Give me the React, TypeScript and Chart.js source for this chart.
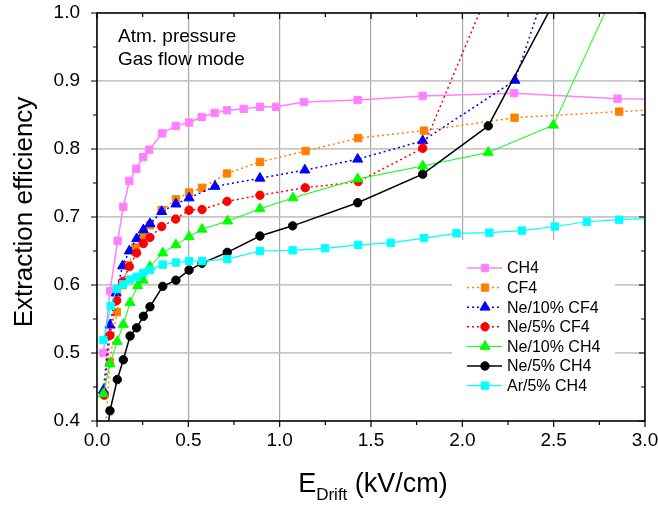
import React, { useEffect, useRef } from 'react';
import { Chart, registerables } from 'chart.js';

Chart.register(...registerables);

const FONT = '"Liberation Sans", Arial, Helvetica, sans-serif';

// ---------- data ----------
const seriesNames = ['CH4', 'CF4', 'Ne/10% CF4', 'Ne/5% CF4', 'Ne/10% CH4', 'Ne/5% CH4', 'Ar/5% CH4'];

const ch4X = [0.035, 0.071, 0.113, 0.144, 0.177, 0.215, 0.253, 0.286, 0.357, 0.431, 0.504, 0.573, 0.644, 0.712, 0.803, 0.892, 0.981, 1.133, 1.427, 1.783, 2.284, 2.85, 3.2];
const ch4Y = [0.500, 0.591, 0.665, 0.715, 0.753, 0.771, 0.788, 0.799, 0.823, 0.834, 0.839, 0.847, 0.853, 0.857, 0.859, 0.862, 0.862, 0.869, 0.872, 0.878, 0.882, 0.874, 0.873];

const cf4X = [0.04, 0.071, 0.108, 0.14, 0.171, 0.21, 0.25, 0.29, 0.354, 0.432, 0.504, 0.575, 0.712, 0.892, 1.142, 1.43, 1.79, 2.286, 2.859, 3.2];
const cf4Y = [0.36, 0.487, 0.560, 0.600, 0.629, 0.655, 0.672, 0.688, 0.710, 0.726, 0.736, 0.743, 0.764, 0.781, 0.797, 0.816, 0.827, 0.846, 0.855, 0.860];

const ne10cf4X = [0.035, 0.071, 0.105, 0.14, 0.177, 0.217, 0.254, 0.29, 0.354, 0.432, 0.504, 0.646, 0.892, 1.138, 1.427, 1.783, 2.288, 2.6];
const ne10cf4Y = [0.445, 0.541, 0.588, 0.628, 0.650, 0.668, 0.681, 0.690, 0.708, 0.719, 0.728, 0.745, 0.757, 0.769, 0.785, 0.812, 0.901, 1.15];

const ne5cf4X = [0.04, 0.071, 0.108, 0.14, 0.177, 0.217, 0.254, 0.29, 0.354, 0.431, 0.504, 0.575, 0.712, 0.892, 1.14, 1.43, 1.783, 2.14];
const ne5cf4Y = [0.438, 0.526, 0.577, 0.605, 0.627, 0.647, 0.661, 0.670, 0.686, 0.697, 0.710, 0.711, 0.723, 0.732, 0.743, 0.752, 0.801, 1.03];

const ne10ch4X = [0.035, 0.071, 0.111, 0.144, 0.181, 0.223, 0.253, 0.29, 0.36, 0.432, 0.504, 0.575, 0.715, 0.892, 1.073, 1.427, 1.783, 2.142, 2.498, 2.86];
const ne10ch4Y = [0.440, 0.484, 0.517, 0.542, 0.574, 0.599, 0.607, 0.627, 0.647, 0.659, 0.671, 0.682, 0.694, 0.712, 0.728, 0.756, 0.775, 0.795, 0.835, 1.047];

const ne5ch4X = [0.04, 0.071, 0.111, 0.144, 0.181, 0.217, 0.254, 0.29, 0.36, 0.432, 0.504, 0.575, 0.713, 0.892, 1.071, 1.427, 1.783, 2.142, 2.5];
const ne5ch4Y = [0.35, 0.415, 0.461, 0.490, 0.525, 0.537, 0.554, 0.568, 0.598, 0.607, 0.622, 0.632, 0.648, 0.672, 0.687, 0.721, 0.763, 0.834, 1.015];

const ar5ch4X = [0.035, 0.075, 0.108, 0.144, 0.181, 0.217, 0.254, 0.29, 0.36, 0.432, 0.504, 0.576, 0.713, 0.892, 1.071, 1.248, 1.43, 1.608, 1.79, 1.968, 2.148, 2.326, 2.506, 2.682, 2.859, 3.2];
const ar5ch4Y = [0.519, 0.569, 0.594, 0.601, 0.608, 0.612, 0.618, 0.622, 0.630, 0.633, 0.635, 0.635, 0.638, 0.650, 0.651, 0.654, 0.659, 0.662, 0.669, 0.676, 0.677, 0.680, 0.686, 0.693, 0.696, 0.700];

const xMin = 0, xMax = 3, xStep = 0.5;
const yMin = 0.4, yMax = 1.0, yStep = 0.1;
const noteLines = ['Atm. pressure', 'Gas flow mode'];

// ---------- styles ----------
const styles = [
  { color: '#ff80ff', shape: 'rect', dash: [] as number[], width: 1.5, r: 5.2 },
  { color: '#ff8000', shape: 'rect', dash: [2, 3], width: 1.5, r: 5.2 },
  { color: '#0000ff', shape: 'triangle', dash: [2, 3], width: 1.5, r: 5.8 },
  { color: '#ff0000', shape: 'circle', dash: [2, 3], width: 1.5, r: 4.2 },
  { color: '#00ff00', shape: 'triangle', dash: [] as number[], width: 1, r: 5.8 },
  { color: '#000000', shape: 'circle', dash: [] as number[], width: 1.5, r: 4.2 },
  { color: '#00ffff', shape: 'rect', dash: [] as number[], width: 1.2, r: 5.2 },
];

const xsAll = [ch4X, cf4X, ne10cf4X, ne5cf4X, ne10ch4X, ne5ch4X, ar5ch4X];
const ysAll = [ch4Y, cf4Y, ne10cf4Y, ne5cf4Y, ne10ch4Y, ne5ch4Y, ar5ch4Y];

function drawMarker(ctx: CanvasRenderingContext2D, shape: string, x: number, y: number, r: number, color: string) {
  ctx.fillStyle = color;
  ctx.strokeStyle = color;
  ctx.lineWidth = 1;
  ctx.setLineDash([]);
  ctx.beginPath();
  if (shape === 'rect') {
    const s = Math.SQRT1_2 * r;
    ctx.rect(x - s, y - s, 2 * s, 2 * s);
  } else if (shape === 'circle') {
    ctx.arc(x, y, r, 0, Math.PI * 2);
  } else {
    ctx.moveTo(x, y - r);
    ctx.lineTo(x + r * Math.sin(Math.PI / 3), y + r / 2);
    ctx.lineTo(x - r * Math.sin(Math.PI / 3), y + r / 2);
    ctx.closePath();
  }
  ctx.fill();
  ctx.stroke();
}

const decorPlugin = {
  id: 'decor',
  afterDraw(chart: any) {
    const { ctx, chartArea: a, scales } = chart;
    const xs = scales.x;
    const ys = scales.y;
    ctx.save();

    // legend box
    ctx.fillStyle = '#ffffff';
    ctx.fillRect(a.left + 355, a.top + 227, 163, a.bottom - a.top - 229);
    const legX = a.left + 370;
    const legY0 = a.top + 255;
    const legDy = 19.6;
    seriesNames.forEach((name, i) => {
      const st = styles[i];
      const y = legY0 + i * legDy;
      ctx.strokeStyle = st.color;
      ctx.lineWidth = st.width;
      ctx.setLineDash(st.dash);
      ctx.beginPath();
      ctx.moveTo(legX, y);
      ctx.lineTo(legX + 35, y);
      ctx.stroke();
      drawMarker(ctx, st.shape, legX + 18, y, st.r, st.color);
      ctx.fillStyle = '#000';
      ctx.font = `16px ${FONT}`;
      ctx.textBaseline = 'middle';
      ctx.textAlign = 'left';
      ctx.fillText(name, legX + 40, y + 1);
    });

    // frame
    ctx.setLineDash([]);
    ctx.strokeStyle = '#000';
    ctx.lineWidth = 1.5;
    ctx.strokeRect(a.left, a.top, a.right - a.left, a.bottom - a.top);

    // ticks
    ctx.lineWidth = 1.2;
    ctx.beginPath();
    for (let v = xMin; v <= xMax + 1e-9; v += xStep / 2) {
      const px = xs.getPixelForValue(v);
      const major = Math.abs(v / xStep - Math.round(v / xStep)) < 1e-6;
      const len = major ? 6 : 4;
      ctx.moveTo(px, a.bottom);
      ctx.lineTo(px, a.bottom + len);
      ctx.moveTo(px, a.top);
      ctx.lineTo(px, a.top + len);
    }
    for (let v = yMin; v <= yMax + 1e-9; v += yStep / 2) {
      const py = ys.getPixelForValue(v);
      const k = (v - yMin) / yStep;
      const major = Math.abs(k - Math.round(k)) < 1e-6;
      const len = major ? 6 : 4;
      ctx.moveTo(a.left, py);
      ctx.lineTo(a.left - len, py);
      ctx.moveTo(a.right, py);
      ctx.lineTo(a.right - len, py);
    }
    ctx.stroke();

    // note text
    ctx.fillStyle = '#000';
    ctx.font = `19px ${FONT}`;
    ctx.textAlign = 'left';
    ctx.textBaseline = 'alphabetic';
    ctx.fillText(noteLines[0], a.left + 21, a.top + 29);
    ctx.fillText(noteLines[1], a.left + 21, a.top + 51.5);

    // y title
    ctx.save();
    ctx.translate(25, 212);
    ctx.rotate(-Math.PI / 2);
    ctx.font = `26px ${FONT}`;
    ctx.textAlign = 'center';
    ctx.textBaseline = 'middle';
    ctx.fillText('Extraction efficiency', 0, 0);
    ctx.restore();

    // x title with subscript
    const big = `27px ${FONT}`;
    const small = `17px ${FONT}`;
    ctx.textBaseline = 'alphabetic';
    ctx.font = big;
    const wE = ctx.measureText('E').width;
    const rest = ' (kV/cm)';
    const wR = ctx.measureText(rest).width;
    ctx.font = small;
    const wD = ctx.measureText('Drift').width;
    const total = wE + wD + wR;
    let x0 = 373 - total / 2;
    const base = 492;
    ctx.font = big;
    ctx.fillText('E', x0, base);
    x0 += wE;
    ctx.font = small;
    ctx.fillText('Drift', x0, base + 8);
    x0 += wD;
    ctx.font = big;
    ctx.fillText(rest, x0, base);

    ctx.restore();
  },
};

export default function App() {
  const ref = useRef<HTMLCanvasElement | null>(null);
  useEffect(() => {
    if (!ref.current) return;
    const datasets = seriesNames.map((name, i) => {
      const st = styles[i];
      return {
        label: name,
        data: xsAll[i].map((x, j) => ({ x, y: ysAll[i][j] })),
        showLine: true,
        borderColor: st.color,
        backgroundColor: st.color,
        borderWidth: st.width,
        borderDash: st.dash,
        pointStyle: st.shape,
        pointRadius: st.r,
        pointBorderWidth: 1,
        pointBackgroundColor: st.color,
        pointBorderColor: st.color,
        tension: 0,
        clip: 0,
        order: 7 - i,
      };
    });
    const chart = new Chart(ref.current, {
      type: 'scatter',
      data: { datasets },
      plugins: [decorPlugin],
      options: {
        animation: false,
        responsive: false,
        events: [],
        layout: { padding: { left: 0, right: 13, top: 13, bottom: 0 } },
        plugins: { legend: { display: false }, tooltip: { enabled: false } },
        scales: {
          x: {
            type: 'linear',
            min: xMin,
            max: xMax,
            afterFit: (s: any) => { s.height = 87; s.paddingLeft = 0; s.paddingRight = 0; },
            border: { display: false },
            grid: { color: '#a8a8a8', lineWidth: 1.2, drawTicks: false },
            ticks: {
              stepSize: xStep,
              padding: 8,
              color: '#000',
              font: { family: FONT, size: 19 },
              maxRotation: 0,
              callback: (v: any) => Number(v).toFixed(1),
            },
          },
          y: {
            type: 'linear',
            min: yMin,
            max: yMax,
            afterFit: (s: any) => { s.width = 97; s.paddingTop = 0; s.paddingBottom = 0; },
            border: { display: false },
            grid: { color: '#c6c6c6', lineWidth: 1.8, drawTicks: false },
            ticks: {
              stepSize: yStep,
              padding: 17,
              color: '#000',
              font: { family: FONT, size: 19 },
              callback: (v: any) => Number(v).toFixed(1),
            },
          },
        },
      },
    });
    return () => chart.destroy();
  }, []);
  return (
    <div style={{ position: 'absolute', left: 0, top: 0, width: 658, height: 508, background: '#fff' }}>
      <canvas ref={ref} width={658} height={508} style={{ display: 'block' }} />
    </div>
  );
}
